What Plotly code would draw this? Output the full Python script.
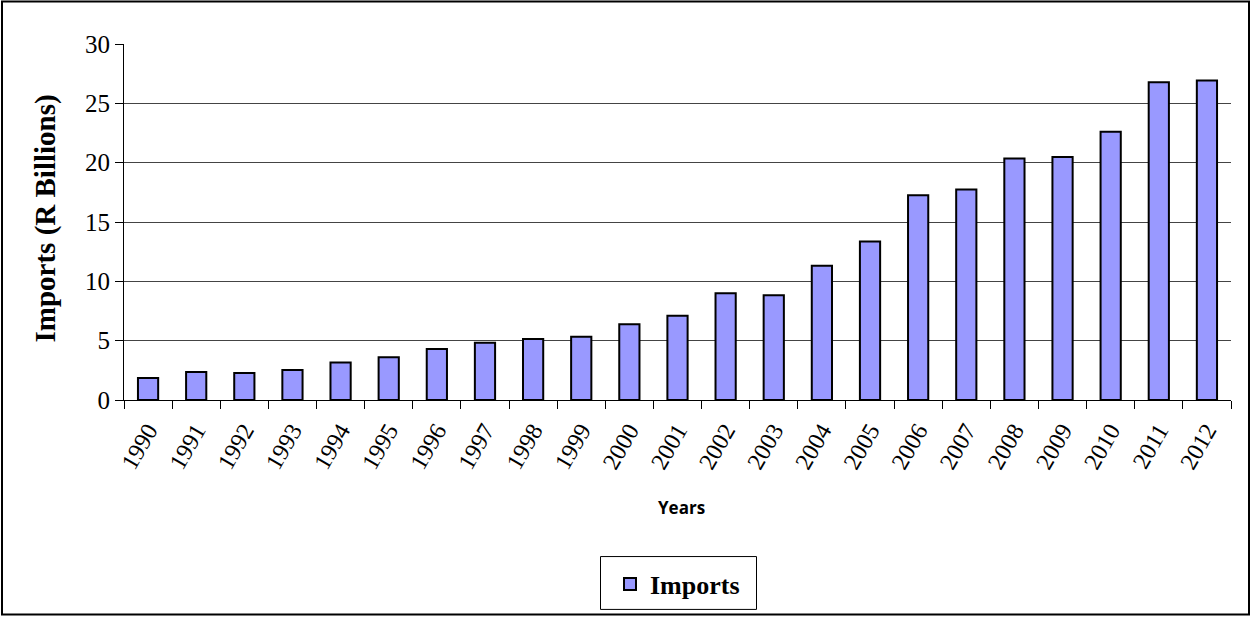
import plotly.graph_objects as go

# South African import values, R billions
years = [str(y) for y in range(1990, 2013)]
imports = [1.85, 2.35, 2.27, 2.52, 3.16, 3.61, 4.29, 4.82, 5.13, 5.32, 6.39, 7.11,
           8.99, 8.82, 11.31, 13.36, 17.25, 17.73, 20.36, 20.47, 22.6, 26.77, 26.92]
y_ticks = [0, 5, 10, 15, 20, 25, 30]

W, H = 1252, 618
L, R, T, B = 124, 21, 44, 217
pw, ph = W - L - R, H - T - B


def px_x(x):
    return (x - L) / pw


def px_y(y):
    return (H - B - y) / ph


serif = "Liberation Serif, Times New Roman, serif"

fig = go.Figure()
fig.add_trace(go.Bar(
    x=years, y=imports, name="Imports",
    marker=dict(color="#9999FF", line=dict(color="#000000", width=2)),
))

fig.update_layout(
    width=W, height=H,
    margin=dict(l=L, r=R, t=T, b=B),
    paper_bgcolor="white", plot_bgcolor="white",
    bargap=0.58,
    showlegend=True,
    legend=dict(
        x=px_x(610), y=px_y(584), xanchor="left", yanchor="middle",
        orientation="h",
        bgcolor="rgba(0,0,0,0)", borderwidth=0,
        font=dict(family=serif, size=26, color="black", weight="bold"),
        itemwidth=30,
    ),
    xaxis=dict(
        type="category",
        tickangle=-60,
        tickfont=dict(family=serif, size=24, color="black"),
        ticks="outside", ticklen=8, tickcolor="#000", tickson="boundaries",
        ticklabelstandoff=6,
        showline=True, linecolor="#000", linewidth=1,
        showgrid=False,
    ),
    yaxis=dict(
        range=[0, 30], tickvals=y_ticks,
        tickfont=dict(family=serif, size=25, color="black"),
        ticks="outside", ticklen=8, tickcolor="#000",
        showline=True, linecolor="#000", linewidth=1,
        showgrid=True, gridcolor="#444", gridwidth=1,
        zeroline=False,
    ),
    annotations=[
        dict(text="Imports (R Billions)", xref="paper", yref="paper",
             x=px_x(46), y=px_y(219), textangle=-90, showarrow=False,
             xanchor="center", yanchor="middle",
             font=dict(family=serif, size=29, color="black", weight="bold")),
        dict(text="Years", xref="paper", yref="paper",
             x=px_x(681), y=px_y(509), showarrow=False,
             xanchor="center", yanchor="middle",
             font=dict(family="Open Sans, DejaVu Sans, sans-serif", size=17,
                       color="black", weight="bold")),
    ],
    shapes=[
        dict(type="rect", xref="paper", yref="paper",
             x0=px_x(2), x1=px_x(1249), y0=px_y(616), y1=px_y(1.5),
             line=dict(color="black", width=2), layer="below"),
        dict(type="rect", xref="paper", yref="paper",
             x0=px_x(600.5), x1=px_x(756.5), y0=px_y(611), y1=px_y(558),
             line=dict(color="black", width=1), layer="below"),
    ],
)

fig.write_html("out.html")
